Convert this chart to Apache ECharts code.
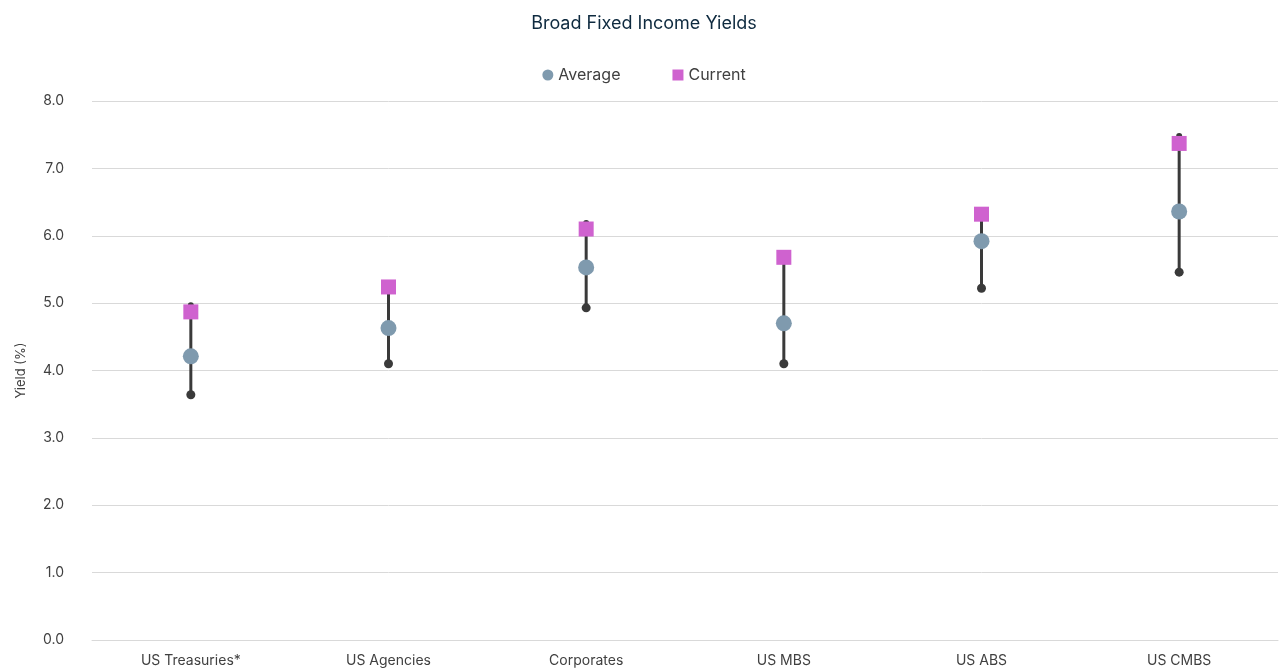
<!DOCTYPE html>
<html><head><meta charset="utf-8">
<script src="https://cdn.jsdelivr.net/npm/echarts@6/dist/echarts.min.js"></script>
<style>html,body{margin:0;padding:0;background:#fff}#c{width:1288px;height:670px}</style>
</head><body><div id="c"></div>
<script>
const categories = ['US Treasuries*','US Agencies','Corporates','US MBS','US ABS','US CMBS'];
const lows = [3.64, 4.10, 4.93, 4.10, 5.22, 5.46];
const highs = [4.97, 5.24, 6.19, 5.68, 6.32, 7.48];
const average = [4.21, 4.63, 5.53, 4.70, 5.92, 6.36];
const current = [4.87, 5.24, 6.10, 5.68, 6.32, 7.37];
const yTicks = [0, 1, 2, 3, 4, 5, 6, 7, 8];

const chart = echarts.init(document.getElementById('c'));
const font = 'Inter, "Noto Sans", sans-serif';
chart.setOption({
  animation: false,
  title: { text: 'Broad Fixed Income Yields', left: 'center', top: 10,
    textStyle: { fontFamily: font, fontSize: 18, fontWeight: 'normal', color: '#0e2a3f' } },
  legend: { top: 62, left: 'center', itemWidth: 11, itemHeight: 11, itemGap: 52,
    textStyle: { fontFamily: font, fontSize: 16, color: '#404040' },
    data: [{ name: 'Average', icon: 'circle' }, { name: 'Current', icon: 'rect' }] },
  grid: { left: 92, right: 10, top: 101, bottom: 30 },
  xAxis: { type: 'category', data: categories,
    axisLine: { lineStyle: { color: '#d9d9d9' } }, axisTick: { show: false },
    axisLabel: { fontFamily: font, fontSize: 14, color: '#404040', margin: 14 } },
  yAxis: { type: 'value', min: yTicks[0], max: yTicks[yTicks.length - 1], interval: 1,
    name: 'Yield (%)', nameLocation: 'middle', nameGap: 64,
    nameTextStyle: { fontFamily: font, fontSize: 13, color: '#404040' },
    axisLabel: { fontFamily: font, fontSize: 14, color: '#404040', margin: 28, formatter: v => v.toFixed(1) },
    splitLine: { lineStyle: { color: '#d9d9d9' } } },
  series: [
    { type: 'custom', name: 'Range', silent: true,
      data: categories.map((c, i) => [i, lows[i], highs[i]]),
      encode: { x: 0, y: [1, 2] },
      renderItem: (params, api) => {
        const lo = api.coord([api.value(0), api.value(1)]);
        const hi = api.coord([api.value(0), api.value(2)]);
        return { type: 'group', children: [
          { type: 'line', shape: { x1: lo[0], y1: lo[1], x2: hi[0], y2: hi[1] }, style: { stroke: '#3a3a3a', lineWidth: 3 } },
          { type: 'circle', shape: { cx: lo[0], cy: lo[1], r: 4.5 }, style: { fill: '#3a3a3a' } },
          { type: 'circle', shape: { cx: hi[0], cy: hi[1], r: 3 }, style: { fill: '#3a3a3a' } }
        ] };
      }, z: 1 },
    { type: 'scatter', name: 'Average', data: average, symbol: 'circle', symbolSize: 16,
      itemStyle: { color: '#7f9aae', opacity: 1 }, z: 3 },
    { type: 'scatter', name: 'Current', data: current, symbol: 'rect', symbolSize: 15,
      itemStyle: { color: '#cf62cf', opacity: 1 }, z: 4 }
  ]
});
</script></body></html>
